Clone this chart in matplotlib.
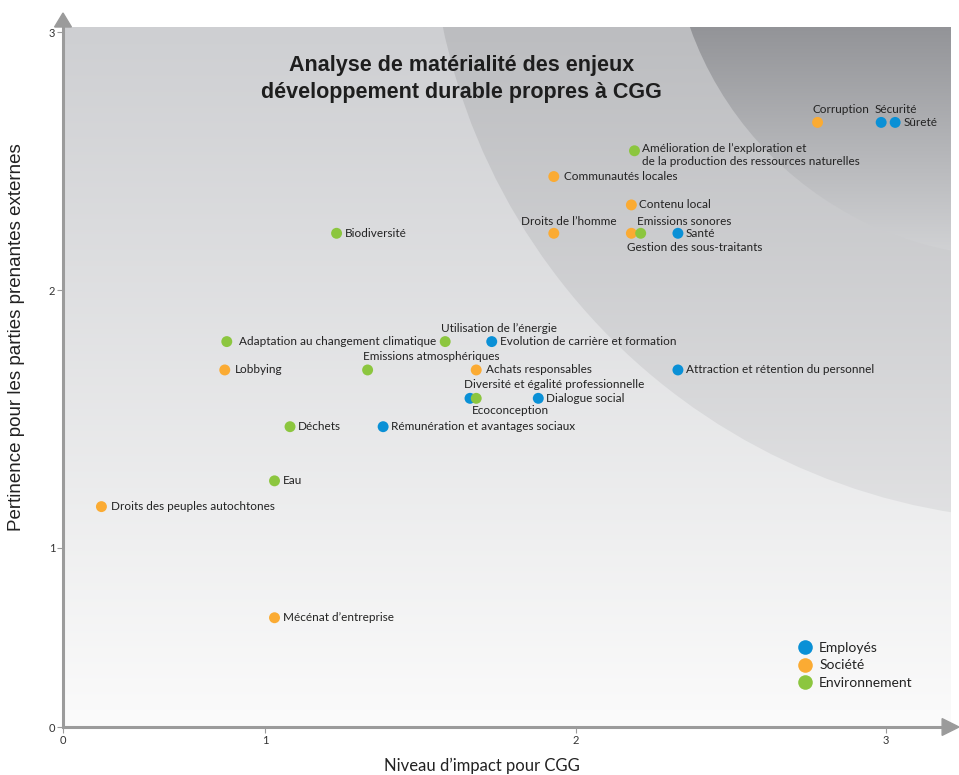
import numpy as np
import matplotlib
matplotlib.use("Agg")
from matplotlib import pyplot as plt
from matplotlib.colors import to_rgb
from matplotlib.patches import Ellipse, Polygon
from matplotlib.lines import Line2D

# --- data -------------------------------------------------------------
labels = [
    "Corruption", "Sécurité", "Sûreté",
    "Amélioration de l’exploration et\nde la production des ressources naturelles",
    "Communautés locales", "Contenu local", "Droits de l’homme",
    "Gestion des sous-traitants", "Emissions sonores", "Santé", "Biodiversité",
    "Adaptation au changement climatique", "Utilisation de l’énergie",
    "Evolution de carrière et formation", "Lobbying", "Emissions atmosphériques",
    "Achats responsables", "Attraction et rétention du personnel",
    "Diversité et égalité professionnelle", "Ecoconception", "Dialogue social",
    "Déchets", "Rémunération et avantages sociaux", "Eau",
    "Droits des peuples autochtones", "Mécénat d’entreprise",
]
impact = [2.78, 2.985, 3.03, 2.19, 1.93, 2.18, 1.93, 2.18, 2.21, 2.33, 1.23,
          0.81, 1.58, 1.73, 0.80, 1.33, 1.68, 2.33, 1.66, 1.68, 1.88,
          1.08, 1.38, 1.03, 0.19, 1.03]
pertinence = [2.65, 2.65, 2.65, 2.54, 2.44, 2.33, 2.22, 2.22, 2.22, 2.22, 2.22,
              1.80, 1.80, 1.80, 1.69, 1.69, 1.69, 1.69, 1.58, 1.58, 1.58,
              1.47, 1.47, 1.26, 1.16, 0.61]
category = ["S", "E", "E", "V", "S", "S", "S", "S", "V", "E", "V",
            "V", "V", "E", "S", "V", "S", "E", "E", "V", "E",
            "V", "E", "V", "S", "S"]
categories = ["E", "S", "V"]
category_names = ["Employés", "Société", "Environnement"]

# label placement (pixel offsets from the dot, horizontal alignment, vertical alignment)
label_pos = {
    "Corruption": (-5, 13, "left", "center"),
    "Sécurité": (-7, 13, "left", "center"),
    "Droits de l’homme": (15, 12, "center", "center"),
    "Gestion des sous-traitants": (-4, -14, "left", "center"),
    "Emissions sonores": (-4, 12, "left", "center"),
    "Utilisation de l’énergie": (-4, 13, "left", "center"),
    "Emissions atmosphériques": (-5, 13, "left", "center"),
    "Diversité et égalité professionnelle": (-6, 14, "left", "center"),
    "Ecoconception": (-4, -12, "left", "center"),
    "Amélioration de l’exploration et\nde la production des ressources naturelles": (8, 8, "left", "top"),
    "Adaptation au changement climatique": (12, 0, "left", "center"),
    "Lobbying": (10, 0, "left", "center"),
    "Achats responsables": (10, 0, "left", "center"),
    "Communautés locales": (10, 0, "left", "center"),
    "Droits des peuples autochtones": (10, 0, "left", "center"),
}

colors = {"E": "#0a90d6", "S": "#fbab33", "V": "#8cc63f"}
label_font = ["Lato", "DejaVu Sans"]


def piecewise(k):
    def fwd(v):
        v = np.asarray(v, dtype=float)
        return np.where(v < 1, v * k, v - 1 + k)

    def inv(u):
        u = np.asarray(u, dtype=float)
        return np.where(u < k, u / k, u + 1 - k)
    return fwd, inv


def vgrad(ax, top, bottom, y0, y1, clip=None):
    c_top = np.array(to_rgb(top))
    c_bot = np.array(to_rgb(bottom))
    t = np.linspace(0, 1, 256)[:, None]
    img = (c_bot + (c_top - c_bot) * t)[:, None, :]
    im = ax.imshow(img, extent=[0, 1, y0, y1], origin="lower", aspect="auto",
                   interpolation="bilinear", zorder=0)
    if clip is not None:
        ax.add_patch(clip)
        im.set_clip_path(clip)
    return im


fig = plt.figure(figsize=(9.59, 7.75), dpi=100)
pos = [63 / 959, 48 / 775, 888 / 959, 700 / 775]

# background with the shaded zones
bg = fig.add_axes(pos, zorder=0)
bg.set_xlim(0, 1)
bg.set_ylim(0, 1)
bg.axis("off")
vgrad(bg, "#cecfd2", "#fbfbfb", 0, 1)
outer = Ellipse((1.111, 1.181), 1.396, 1.771, facecolor="none", edgecolor="none")
vgrad(bg, "#bcbdc0", "#f0f0f1", 0, 1, outer)
inner = Ellipse((1.072, 1.165), 0.777, 0.986, facecolor="none", edgecolor="none")
vgrad(bg, "#939498", "#dcdddf", 0.62, 1, inner)

ax = fig.add_axes(pos, zorder=1)
ax.patch.set_alpha(0)
ax.set_xscale("function", functions=piecewise(202 / 310))
ax.set_yscale("function", functions=piecewise(179 / 257.7))
ax.set_xlim(0, 3.21)
ax.set_ylim(0, 3.02)

for c in categories:
    xs = [x for x, k in zip(impact, category) if k == c]
    ys = [y for y, k in zip(pertinence, category) if k == c]
    ax.scatter(xs, ys, s=62, color=colors[c], edgecolors="none", zorder=3)

for lab, x, y in zip(labels, impact, pertinence):
    dx, dy, ha, va = label_pos.get(lab, (8, 0, "left", "center"))
    ax.annotate(lab, (x, y), xytext=(dx * 0.72, dy * 0.72), textcoords="offset points",
                ha=ha, va=va, fontsize=8.5, color="#222222", family=label_font,
                linespacing=1.2, zorder=4)

# axes styling
for side in ["top", "right"]:
    ax.spines[side].set_visible(False)
for side in ["left", "bottom"]:
    ax.spines[side].set_color("#9b9b9b")
    ax.spines[side].set_linewidth(2.2)
ax.set_xticks([0, 1, 2, 3])
ax.set_yticks([0, 1, 2, 3])
ax.tick_params(length=4, width=0.8, color="#9b9b9b", labelsize=8, labelcolor="#333333", pad=1.5)
for t in ax.get_xticklabels() + ax.get_yticklabels():
    t.set_family(label_font)

ax.add_patch(Polygon([[-0.0095, 1.0], [0.0095, 1.0], [0, 1.02]], closed=True,
                     transform=ax.transAxes, clip_on=False, color="#9b9b9b", zorder=5))
ax.add_patch(Polygon([[0.99, -0.012], [0.99, 0.012], [1.009, 0]], closed=True,
                     transform=ax.transAxes, clip_on=False, color="#9b9b9b", zorder=5))

ax.text(0.449, 0.926, "Analyse de matérialité des enjeux\ndéveloppement durable propres à CGG",
        transform=ax.transAxes, ha="center", va="center", fontsize=15.5, fontweight="bold",
        color="#1e1e1e", family=["Liberation Sans", "DejaVu Sans"], linespacing=1.35)

fig.text(482 / 959, 1 - 766 / 775, "Niveau d’impact pour CGG", ha="center", va="center",
         fontsize=12, color="#222222", family=label_font)
fig.text(17 / 959, 1 - 337 / 775, "Pertinence pour les parties prenantes externes",
         ha="center", va="center", rotation=90, fontsize=13.5, color="#222222",
         family=["Liberation Sans", "DejaVu Sans"])

handles = [Line2D([], [], marker="o", linestyle="none", markersize=10.5,
                  markerfacecolor=colors[c], markeredgecolor="none") for c in categories]
leg = ax.legend(handles, category_names, loc="upper left", bbox_to_anchor=(0.814, 0.13),
                frameon=False, handletextpad=0.0, labelspacing=0.42, borderaxespad=0,
                prop={"family": label_font, "size": 10})
for t in leg.get_texts():
    t.set_color("#222222")

fig.savefig("out.png", dpi=100)
